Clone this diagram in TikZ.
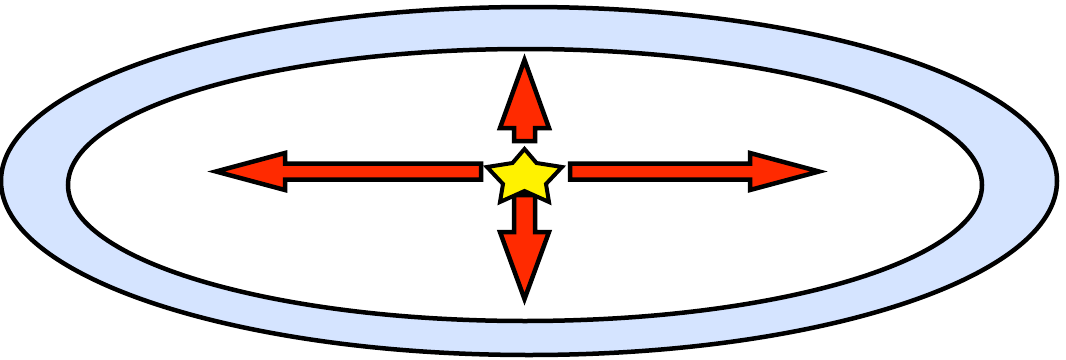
\documentclass[tikz,border=0pt]{standalone}
\definecolor{ringblue}{RGB}{213,228,255}
\definecolor{arrowred}{RGB}{255,42,0}
\definecolor{staryellow}{RGB}{255,242,0}
\tikzset{
  ringline/.style={draw=black, line width=4.5pt},
  arrowshape/.style={draw=black, line width=4.5pt, fill=arrowred, line join=miter, miter limit=20},
  starshape/.style={draw=black, line width=4pt, fill=staryellow, line join=miter, miter limit=20}
}
\begin{document}
\begin{tikzpicture}[x=1pt,y=-1pt]
\useasboundingbox (0,0) rectangle (1066,359);
% ring
\draw[ringline, fill=ringblue] (529,181) ellipse [x radius=528, y radius=174];
\draw[ringline, fill=white] (525,185) ellipse [x radius=457, y radius=136];
% arrows
\draw[arrowshape] (481,163.5) -- (285,163.5) -- (285,153) -- (216,171.5) -- (285,190) -- (285,179.5) -- (481,179.5) -- cycle;
\draw[arrowshape] (570,163.5) -- (750,163.5) -- (750,153) -- (819,171.5) -- (750,190) -- (750,179.5) -- (570,179.5) -- cycle;
\draw[arrowshape] (514,141) -- (514,128) -- (500,128) -- (524.5,60) -- (549,128) -- (535,128) -- (535,141) -- cycle;
\draw[arrowshape] (514,195) -- (514,232) -- (500,232) -- (524.5,299) -- (549,232) -- (535,232) -- (535,195) -- cycle;
% star
\draw[starshape] (524.5,149) -- (536.5,163) -- (562,167) -- (546,184) -- (549,202) -- (524.5,191) -- (500,202) -- (503,184) -- (487,167) -- (512.5,163) -- cycle;
\end{tikzpicture}
\end{document}
